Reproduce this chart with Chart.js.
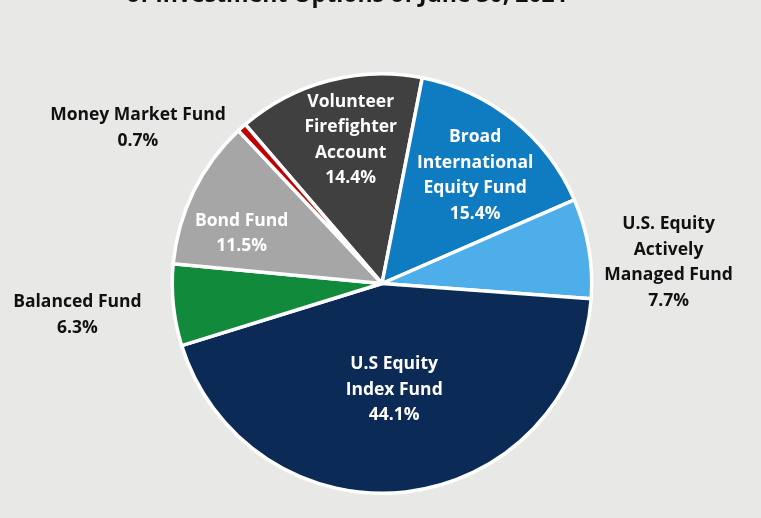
<!DOCTYPE html>
<html>
<head>
<meta charset="utf-8">
<script src="https://cdn.jsdelivr.net/npm/chart.js@4/dist/chart.umd.min.js"></script>
<style>
  html, body { margin: 0; padding: 0; background: #e8e8e6; }
  #wrap { width: 761px; height: 518px; position: relative; }
</style>
</head>
<body>
<div id="wrap"><canvas id="pieChart"></canvas></div>
<script>
const titleText = 'of Investment Options of June 30, 2021';

const fundNames = [
  ['Volunteer', 'Firefighter', 'Account'],
  ['Broad', 'International', 'Equity Fund'],
  ['U.S. Equity', 'Actively', 'Managed Fund'],
  ['U.S Equity', 'Index Fund'],
  ['Balanced Fund'],
  ['Bond Fund'],
  ['Money Market Fund']
];
const fundShares = [14.4, 15.4, 7.7, 44.1, 6.3, 11.5, 0.7];
const fundColors = ['#404040', '#0f7bc0', '#4daee9', '#0b2a55', '#128a3b', '#a6a6a6', '#c00000'];

// label placement: inside (white) or outside (black), radius factor, angle nudge (deg)
const labelSpots = [
  { out: false, r: 0.70, da: 2.5 },
  { out: false, r: 0.68, da: 2 },
  { out: true,  r: 1.37, da: 5.5 },
  { out: false, r: 0.51, da: 0 },
  { out: true,  r: 1.46, da: 0 },
  { out: false, r: 0.71, da: -6.5 },
  { out: true,  r: 1.38, da: -15.5 }
];

const sliceLabels = {
  id: 'sliceLabels',
  afterDatasetsDraw(chart) {
    const ctx = chart.ctx;
    const meta = chart.getDatasetMeta(0);
    ctx.save();
    ctx.font = 'bold 17.5px "Open Sans"';
    ctx.textAlign = 'center';
    ctx.textBaseline = 'middle';
    meta.data.forEach((arc, i) => {
      const p = arc.getProps(['x', 'y', 'startAngle', 'endAngle', 'outerRadius'], true);
      const spot = labelSpots[i];
      const mid = (p.startAngle + p.endAngle) / 2 + spot.da * Math.PI / 180;
      const cx = p.x + Math.cos(mid) * p.outerRadius * spot.r;
      const cy = p.y + Math.sin(mid) * p.outerRadius * spot.r;
      const lines = fundNames[i].concat([fundShares[i].toFixed(1) + '%']);
      const lh = 25.5;
      ctx.fillStyle = spot.out ? '#111111' : '#ffffff';
      lines.forEach((t, k) => {
        ctx.fillText(t, cx, cy + (k - (lines.length - 1) / 2) * lh);
      });
    });
    // title, mostly above the visible area
    ctx.fillStyle = '#111111';
    ctx.font = 'bold 23px "Open Sans"';
    ctx.textBaseline = 'alphabetic';
    ctx.fillText(titleText, 347, 2);
    ctx.restore();
  }
};

new Chart(document.getElementById('pieChart'), {
  type: 'pie',
  data: {
    labels: fundNames.map(n => n.join(' ')),
    datasets: [{
      data: fundShares,
      backgroundColor: fundColors,
      borderColor: '#ffffff',
      borderWidth: 3.5
    }]
  },
  options: {
    responsive: true,
    maintainAspectRatio: false,
    animation: false,
    rotation: -40.7,
    layout: { padding: { top: 72, bottom: 23, left: 3, right: 0 } },
    plugins: {
      legend: { display: false },
      tooltip: { enabled: false }
    }
  },
  plugins: [sliceLabels]
});
</script>
</body>
</html>
